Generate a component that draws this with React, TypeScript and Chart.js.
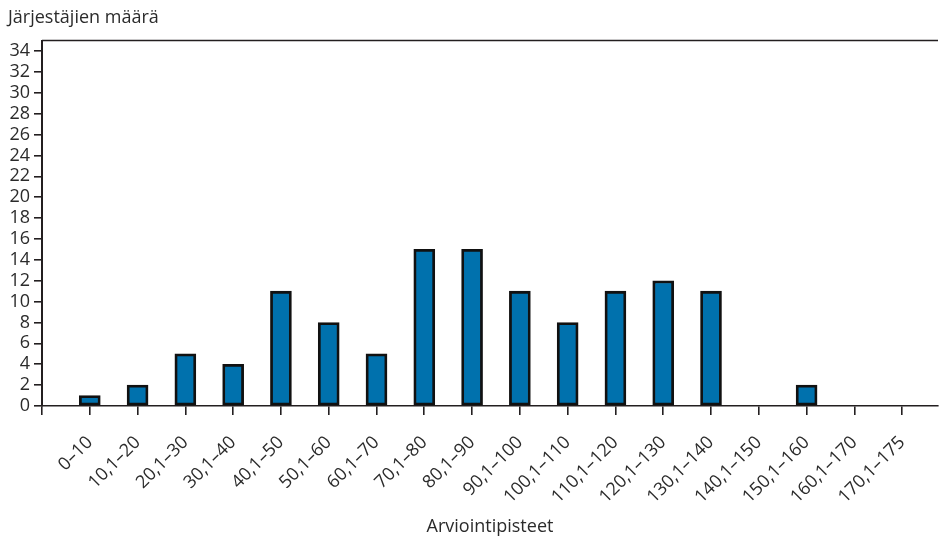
import React, { useEffect, useRef } from "react";
import { Chart, registerables } from "chart.js";

Chart.register(...registerables);

const categories: string[] = [
  "0–10", "10,1–20", "20,1–30", "30,1–40", "40,1–50", "50,1–60", "60,1–70",
  "70,1–80", "80,1–90", "90,1–100", "100,1–110", "110,1–120", "120,1–130",
  "130,1–140", "140,1–150", "150,1–160", "160,1–170", "170,1–175",
];
const counts: number[] = [1, 2, 5, 4, 11, 8, 5, 15, 15, 11, 8, 11, 12, 11, 0, 2, 0, 0];
const yTickValues: number[] = [0, 2, 4, 6, 8, 10, 12, 14, 16, 18, 20, 22, 24, 26, 28, 30, 32, 34];
const xTickValues: number[] = [-1, 0, 1, 2, 3, 4, 5, 6, 7, 8, 9, 10, 11, 12, 13, 14, 15, 16, 17];

const yTitle = "Järjestäjien määrä";
const xTitle = "Arviointipisteet";

const INK = "#231f20";
const TEXT = "#2b2b2b";
const BAR = "#0071ad";
const FONT = "'Open Sans', 'Noto Sans', sans-serif";

export default function App() {
  const ref = useRef<HTMLCanvasElement | null>(null);

  useEffect(() => {
    if (!ref.current) return;
    const topLine = {
      id: "topLine",
      afterDraw(chart: any) {
        const { ctx, chartArea } = chart;
        ctx.save();
        ctx.strokeStyle = INK;
        ctx.lineWidth = 1.5;
        ctx.beginPath();
        ctx.moveTo(chartArea.left, chartArea.top);
        ctx.lineTo(chartArea.right, chartArea.top);
        ctx.stroke();
        ctx.restore();
      },
    };
    const chart = new Chart(ref.current, {
      type: "bar",
      data: {
        datasets: [
          {
            data: counts.map((v, i) => ({ x: i, y: v })),
            backgroundColor: BAR,
            borderColor: "#111111",
            borderWidth: 2.8,
            borderSkipped: false,
            barThickness: 21,
          } as any,
        ],
      },
      plugins: [topLine],
      options: {
        animation: false,
        responsive: false,
        maintainAspectRatio: false,
        layout: { padding: { left: 8, right: 9, top: 0, bottom: 0 } },
        plugins: {
          legend: { display: false },
          tooltip: { enabled: false },
          title: {
            display: true,
            text: yTitle,
            align: "start",
            color: TEXT,
            font: { family: FONT, size: 18, weight: "normal" },
            padding: { top: 7, bottom: 12 },
          },
        },
        scales: {
          x: {
            type: "linear",
            offset: false,
            min: -1,
            max: 17.75,
            afterBuildTicks: (scale: any) => {
              scale.ticks = xTickValues.map((v) => ({ value: v }));
            },
            afterFit: (scale: any) => {
              scale.height = 134;
            },
            ticks: {
              autoSkip: false,
              minRotation: 45,
              maxRotation: 45,
              padding: 17,
              color: TEXT,
              font: { family: FONT, size: 18 },
              callback: (value: any) => (value >= 0 ? categories[value] : ""),
            },
            grid: {
              offset: false,
              drawOnChartArea: false,
              drawTicks: true,
              tickLength: 9,
              color: INK,
              lineWidth: 1.6,
            },
            border: { display: true, color: INK, width: 1.4 },
            title: {
              display: true,
              text: xTitle,
              color: TEXT,
              font: { family: FONT, size: 18 },
              padding: { top: 0, bottom: 2 },
            },
          },
          y: {
            type: "linear",
            min: 0,
            max: 35,
            afterBuildTicks: (scale: any) => {
              scale.ticks = yTickValues.map((v) => ({ value: v }));
            },
            afterFit: (scale: any) => {
              scale.width = 34;
            },
            ticks: {
              autoSkip: false,
              padding: 4,
              color: TEXT,
              font: { family: FONT, size: 18 },
            },
            grid: {
              drawOnChartArea: false,
              drawTicks: true,
              tickLength: 8,
              color: INK,
              lineWidth: 1.6,
            },
            border: { display: true, color: INK, width: 2 },
          },
        },
      } as any,
    });
    return () => chart.destroy();
  }, []);

  return (
    <div style={{ position: "absolute", left: 0, top: 0, width: 947, height: 540, background: "#fff" }}>
      <canvas ref={ref} width={947} height={540} style={{ width: 947, height: 540 }} />
    </div>
  );
}
